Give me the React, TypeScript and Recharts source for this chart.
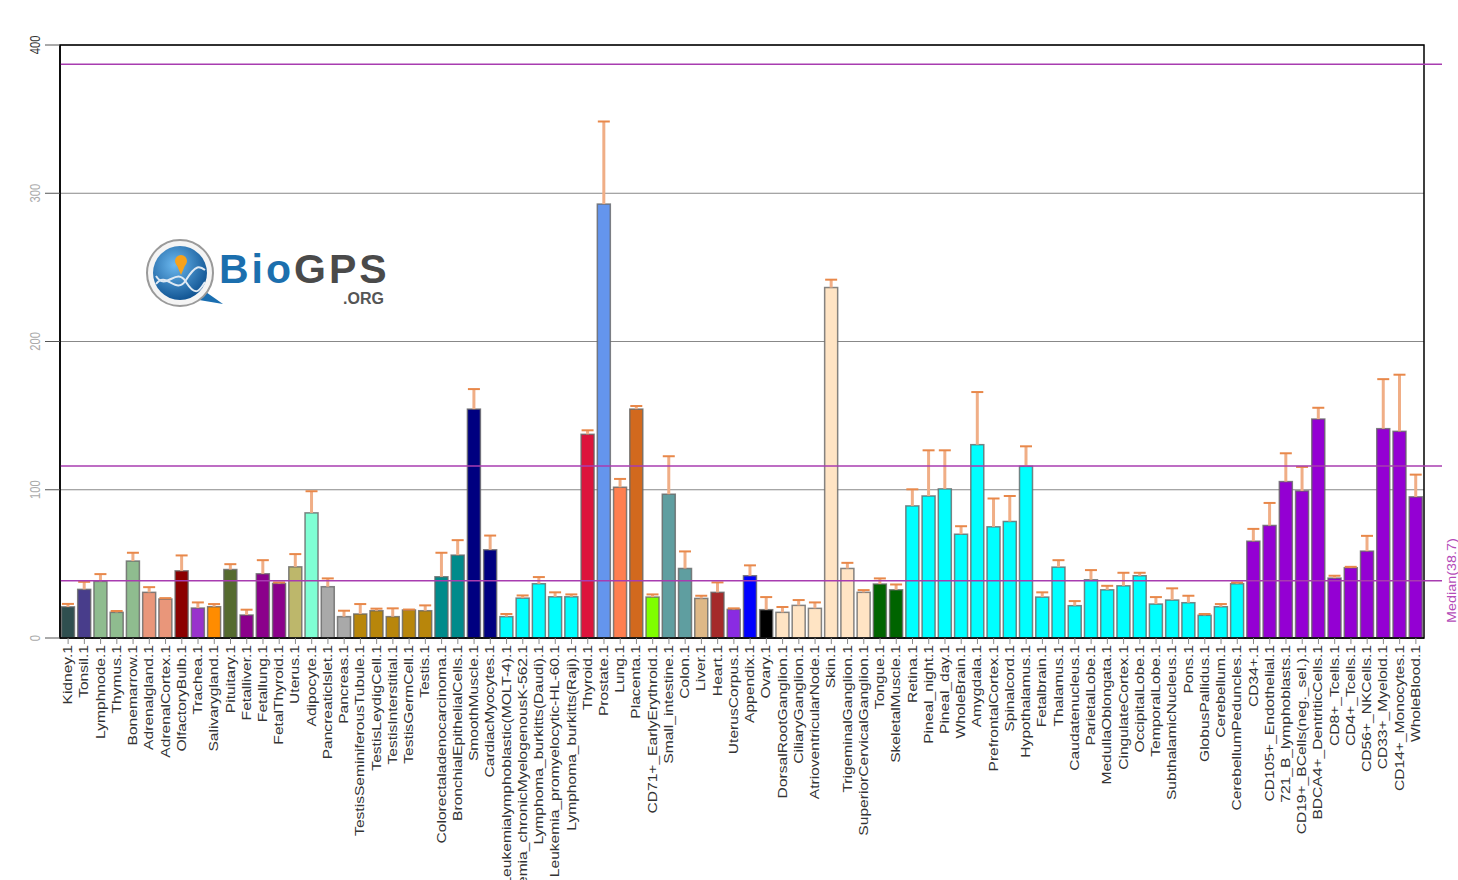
import { BarChart, Bar, XAxis, YAxis, CartesianGrid, ReferenceLine, ReferenceArea } from 'recharts';

const samples = [
  'Kidney.1', 'Tonsil.1', 'Lymphnode.1', 'Thymus.1', 'Bonemarrow.1', 'Adrenalgland.1', 'AdrenalCortex.1',
  'OlfactoryBulb.1', 'Trachea.1', 'Salivarygland.1', 'Pituitary.1', 'Fetalliver.1', 'Fetallung.1',
  'FetalThyroid.1', 'Uterus.1', 'Adipocyte.1', 'Pancreaticlslet.1', 'Pancreas.1', 'TestisSeminiferousTubule.1',
  'TestisLeydigCell.1', 'TestisInterstitial.1', 'TestisGermCell.1', 'Testis.1', 'Colorectaladenocarcinoma.1',
  'BronchialEpithelialCells.1', 'SmoothMuscle.1', 'CardiacMyocytes.1', 'Leukemialymphoblastic(MOLT-4).1',
  'Leukemia_chronicMyelogenousK-562.1', 'Lymphoma_burkitts(Daudi).1', 'Leukemia_promyelocytic-HL-60.1',
  'Lymphoma_burkitts(Raji).1', 'Thyroid.1', 'Prostate.1', 'Lung.1', 'Placenta.1', 'CD71+_EarlyErythroid.1',
  'Small_intestine.1', 'Colon.1', 'Liver.1', 'Heart.1', 'UterusCorpus.1', 'Appendix.1', 'Ovary.1',
  'DorsalRootGanglion.1', 'CiliaryGanglion.1', 'AtrioventricularNode.1', 'Skin.1', 'TrigeminalGanglion.1',
  'SuperiorCervicalGanglion.1', 'Tongue.1', 'SkeletalMuscle.1', 'Retina.1', 'Pineal_night.1', 'Pineal_day.1',
  'WholeBrain.1', 'Amygdala.1', 'PrefrontalCortex.1', 'Spinalcord.1', 'Hypothalamus.1', 'Fetalbrain.1',
  'Thalamus.1', 'Caudatenucleus.1', 'ParietalLobe.1', 'MedullaOblongata.1', 'CingulateCortex.1',
  'OccipitalLobe.1', 'TemporalLobe.1', 'SubthalamicNucleus.1', 'Pons.1', 'GlobusPallidus.1', 'Cerebellum.1',
  'CerebellumPeduncles.1', 'CD34+.1', 'CD105+_Endothelial.1', '721_B_lymphoblasts.1', 'CD19+_BCells(neg._sel.).1',
  'BDCA4+_DentriticCells.1', 'CD8+_Tcells.1', 'CD4+_Tcells.1', 'CD56+_NKCells.1', 'CD33+_Myeloid.1',
  'CD14+_Monocytes.1', 'WholeBlood.1',
];

const values = [
  21, 32.8, 38.2, 17.3, 51.9, 30.8, 26.3, 45.3, 20.2, 21.1,
  46.2, 15.5, 43.3, 36.8, 48.0, 84.4, 34.6, 14.4, 16.2, 18.4,
  14.4, 18.9, 18.4, 41.3, 55.9, 154.4, 59.5, 14.4, 26.9, 36.6,
  27.8, 27.8, 137.4, 292.7, 101.7, 154.4, 27.6, 97.0, 46.9, 26.7,
  30.8, 19.3, 42.0, 19.1, 17.3, 22.0, 20.0, 236.4, 46.9, 30.8,
  36.4, 32.5, 89.1, 95.8, 100.6, 70.0, 130.4, 75.0, 78.6, 115.8,
  27.6, 47.8, 21.8, 39.3, 32.5, 35.2, 42.0, 22.9, 25.6, 23.8,
  15.3, 21.1, 36.6, 65.3, 75.9, 105.5, 99.2, 147.7, 40.4, 47.4,
  58.6, 141.2, 139.4, 95.2,
];

// value + standard error (top of the whisker)
const errorTops = [
  23, 37.9, 43.1, 18.2, 57.5, 34.3, 26.9, 55.7, 24.0, 22.9,
  49.8, 19.1, 52.5, 37.5, 56.6, 99.0, 40.2, 18.4, 22.9, 19.8,
  20.0, 19.2, 22.0, 57.5, 66.0, 167.9, 69.1, 16.2, 28.7, 41.1,
  30.8, 29.4, 140.1, 348.4, 107.3, 156.5, 29.4, 122.6, 58.4, 28.5,
  37.5, 20.0, 49.0, 27.6, 20.9, 25.6, 24.0, 241.7, 50.7, 32.3,
  40.2, 36.1, 100.3, 126.6, 126.6, 75.4, 165.9, 94.1, 95.8, 129.3,
  30.8, 52.5, 24.9, 45.8, 35.2, 44.0, 44.0, 27.6, 33.5, 28.5,
  16.2, 22.9, 37.5, 73.6, 91.1, 124.6, 115.4, 155.3, 42.0, 48.0,
  68.9, 174.6, 177.6, 110.2,
];

const C = '#00FFFF';
const V = '#9400D3';
const barColors = [
  '#2F4F4F', '#483D8B', '#8FBC8F', '#8FBC8F', '#8FBC8F', '#E9967A', '#E9967A', '#8B0000', '#9932CC', '#FF8C00',
  '#556B2F', '#8B008B', '#8B008B', '#8B008B', '#BDB76B', '#7FFFD4', '#A9A9A9', '#A9A9A9', '#B8860B', '#B8860B',
  '#B8860B', '#B8860B', '#B8860B', '#008B8B', '#008B8B', '#000080', '#000080', C, C, C,
  C, C, '#DC143C', '#6495ED', '#FF7F50', '#D2691E', '#7FFF00', '#5F9EA0', '#5F9EA0', '#DEB887',
  '#A52A2A', '#8A2BE2', '#0000FF', '#000000', '#FFE4C4', '#FFE4C4', '#FFE4C4', '#FFE4C4', '#FFE4C4', '#FFE4C4',
  '#006400', '#006400', C, C, C, C, C, C, C, C,
  C, C, C, C, C, C, C, C, C, C,
  C, C, C, V, V, V, V, V, V, V,
  V, V, V, V,
];

const median = 38.7;
const refLines = [median, median * 3, median * 10];
const yTicks = [0, 100, 200, 300, 400];

const data = samples.map((name, i) => ({
  name,
  value: values[i],
  err: errorTops[i],
  color: barColors[i],
}));

const FONT = '"Liberation Sans", Arial, sans-serif';
const PURPLE = '#A83CB0';

const BarWithError = (props: any) => {
  const { x, y, width, height, payload } = props;
  const perUnit = height / payload.value;
  const errY = y - (payload.err - payload.value) * perUnit;
  const cx = x + width / 2;
  return (
    <g>
      <rect x={x} y={y} width={width} height={height} fill={payload.color}
        stroke="#666" strokeOpacity={0.8} strokeWidth={1.5} />
      {payload.err > payload.value && (
        <>
          <line x1={cx} y1={y} x2={cx} y2={errY} stroke="#F0AE86" strokeWidth={3} />
          <line x1={cx - 6} y1={errY} x2={cx + 6} y2={errY} stroke="#E8884A" strokeWidth={2} />
        </>
      )}
    </g>
  );
};

const XTick = ({ x, y, payload }: any) => (
  <text transform={`translate(${x + 4},${y + 1}) rotate(-90) scale(1.3,1)`} textAnchor="end"
    fontSize={12} fontFamily={FONT} fill="#333">
    {payload.value}
  </text>
);

const YTick = ({ x, y, payload }: any) => (
  <text transform={`translate(${x - 5},${y}) rotate(-90) scale(0.75,1)`} textAnchor="middle"
    fontSize={15} fontFamily={FONT} fill={payload.value === 400 ? '#333' : '#aaa'}>
    {payload.value}
  </text>
);

const MedianLabel = ({ viewBox }: any) => (
  <text transform={`translate(${viewBox.x + viewBox.width + 32},${viewBox.y}) rotate(-90) scale(1.2,1)`}
    textAnchor="middle" fontSize={12} fontFamily={FONT} fill="#B44CB8">
    Median(38.7)
  </text>
);

const refShape = (p: any) => (
  <line x1={p.x1} y1={p.y1} x2={p.x2 + 18} y2={p.y2} stroke={PURPLE} strokeWidth={1.5} />
);

const Logo = () => (
  <svg width={1458} height={880} style={{ position: 'absolute', left: 0, top: 0, pointerEvents: 'none' }}>
    <defs>
      <radialGradient id="lg" cx="40%" cy="35%" r="70%">
        <stop offset="0%" stopColor="#6bb8ef" />
        <stop offset="100%" stopColor="#0c4f8e" />
      </radialGradient>
    </defs>
    <polygon points="203,290 223,304 199,300" fill="#1a6eb0" />
    <circle cx={180} cy={273} r={33} fill="#f4f4f4" stroke="#9a9a9a" strokeWidth={2} />
    <circle cx={180} cy={273} r={27} fill="url(#lg)" />
    <path d="M156,284 C166,270 176,296 186,280 S200,266 205,270" stroke="#dfe9f3" strokeWidth={2} fill="none" />
    <path d="M156,276 C166,292 176,266 186,282 S200,290 205,282" stroke="#dfe9f3" strokeWidth={2} fill="none" />
    <circle cx={181} cy={261} r={6} fill="#f7a21b" />
    <polygon points="176,263 186,263 181,275" fill="#f7a21b" />
    <text x={219} y={283} fontSize={41} fontWeight="bold" fontFamily={FONT} letterSpacing={3}>
      <tspan fill="#1b6fae">Bio</tspan>
      <tspan fill="#4a4a4a">GPS</tspan>
    </text>
    <text x={343} y={304} fontSize={16} fontWeight="bold" fontFamily={FONT} fill="#555">.ORG</text>
  </svg>
);

export default function App() {
  return (
    <div style={{ position: 'absolute', left: 0, top: 0, width: 1458, height: 880, background: '#fff' }}>
      <BarChart width={1458} height={880} data={data} barCategoryGap="9%"
        margin={{ top: 45, right: 34, bottom: 0, left: 0 }}>
        <CartesianGrid vertical={false} stroke="#888" />
        <XAxis dataKey="name" interval={0} height={242} tick={<XTick />} tickSize={6} tickMargin={0}
          tickLine={{ stroke: '#888' }} axisLine={{ stroke: '#000', strokeWidth: 1.5 }} />
        <YAxis domain={[0, 400]} ticks={yTicks} width={60} tick={<YTick />} tickSize={15} tickMargin={0}
          tickLine={{ stroke: '#555' }} axisLine={{ stroke: '#000', strokeWidth: 1.5 }} />
        <Bar dataKey="value" shape={<BarWithError />} isAnimationActive={false} />
        {refLines.map((v, i) => (
          <ReferenceLine key={i} y={v} shape={refShape} label={i === 0 ? <MedianLabel /> : undefined} />
        ))}
        <ReferenceArea y1={0} y2={400} fill="none" fillOpacity={0} stroke="#000" strokeWidth={1.5}
          strokeOpacity={1} ifOverflow="visible" />
      </BarChart>
      <Logo />
    </div>
  );
}
